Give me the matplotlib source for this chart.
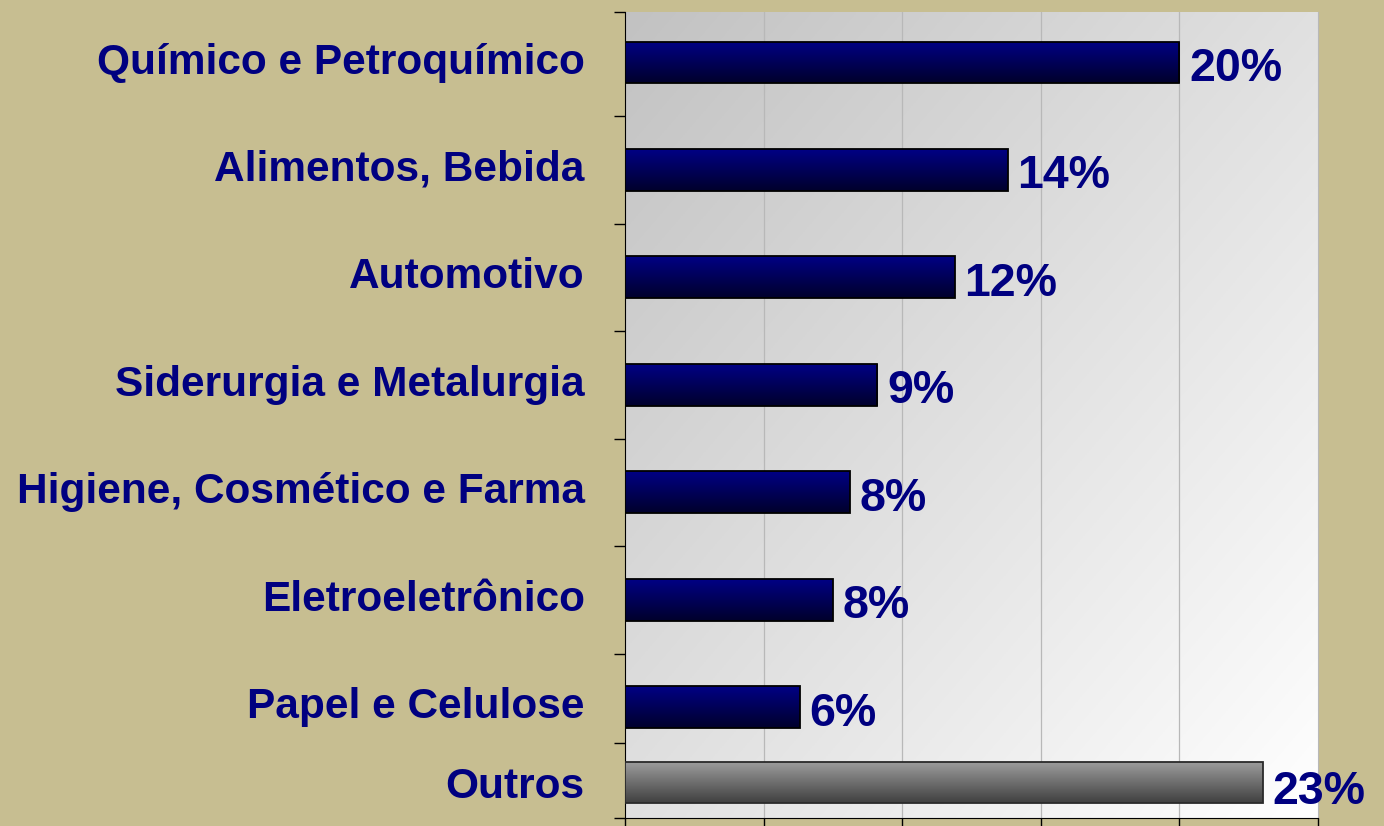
import numpy as np
import matplotlib
matplotlib.use("Agg")
import matplotlib.pyplot as plt

# dados (percentual por setor)
setores = ["Químico e Petroquímico", "Alimentos, Bebida", "Automotivo",
           "Siderurgia e Metalurgia", "Higiene, Cosmético e Farma",
           "Eletroeletrônico", "Papel e Celulose", "Outros"]
valores = [20.0, 13.8, 11.9, 9.1, 8.1, 7.5, 6.3, 23.0]
rotulos = ["20%", "14%", "12%", "9%", "8%", "8%", "6%", "23%"]

BG = "#C7BE91"
NAVY = "#000080"

plt.rcParams["font.family"] = ["Liberation Sans", "DejaVu Sans"]

fig = plt.figure(figsize=(13.84, 8.26), dpi=100, facecolor=BG)
pos = [625 / 1384, 1 - 818 / 826, (1318 - 625) / 1384, (818 - 12) / 826]

# fundo em degradê da área do gráfico (escuro no canto superior esquerdo)
bg_ax = fig.add_axes(pos, zorder=0)
xx, yy = np.meshgrid(np.linspace(0, 1, 300), np.linspace(0, 1, 300))
g = 0.76 + 0.24 * (xx + (1 - yy)) / 2
bg_ax.imshow(np.dstack([g, g, g]), extent=[0, 1, 0, 1], aspect="auto", origin="lower")
bg_ax.axis("off")

ax = fig.add_axes(pos, zorder=1)
ax.set_facecolor("none")

y_pos = [0, 1, 2, 3, 4, 5, 6, 6.70]
altura = 0.39

bars = ax.barh(y_pos, valores, height=altura, zorder=3)
n = 100
for i, b in enumerate(bars):
    if setores[i] == "Outros":
        top, bot = np.array([0.62, 0.62, 0.62]), np.array([0.25, 0.25, 0.25])
        edge = "#2a2a2a"
    else:
        top, bot = np.array([0.0, 0.0, 0.52]), np.array([0.0, 0.0, 0.17])
        edge = "black"
    t = np.linspace(0, 1, n)[:, None]
    grad = (top * (1 - t) + bot * t)[:, None, :]
    x0, w = b.get_x(), b.get_width()
    yc = y_pos[i]
    b.set_facecolor("none")
    b.set_edgecolor(edge)
    b.set_linewidth(1.3)
    b.set_zorder(4)
    im = ax.imshow(grad, extent=[x0, x0 + w, yc + altura / 2, yc - altura / 2],
                   aspect="auto", origin="upper", zorder=3)
    im.set_clip_path(b)

for i, txt in enumerate(rotulos):
    dy = -7 if setores[i] == "Outros" else -4.5
    ax.annotate(txt, (valores[i], y_pos[i]), textcoords="offset points",
                xytext=(7, dy), ha="left", va="center", fontsize=33.5,
                fontweight="bold", color=NAVY, zorder=5)

ax.set_xlim(0, 25)
ax.set_ylim(7.03, -0.47)

ax.set_xticks([0, 5, 10, 15, 20, 25])
ax.set_xticklabels([])
ax.tick_params(axis="x", direction="out", length=10, width=1, color="black")
for xv in [5, 10, 15, 20]:
    ax.axvline(xv, color="#b8b8b8", linewidth=0.9, zorder=1)

ax.set_yticks(y_pos)
ax.set_yticklabels(setores, fontsize=30.5, fontweight="bold", color=NAVY)
for lbl in ax.get_yticklabels():
    lbl.set_va("center_baseline" if lbl.get_text() == "Outros" else "center")
ax.tick_params(axis="y", which="major", length=0, pad=29)
ax.set_yticks([-0.47, 0.5, 1.5, 2.5, 3.5, 4.5, 5.5, 6.33, 7.03], minor=True)
ax.tick_params(axis="y", which="minor", direction="out", length=8, width=1, color="black")

ax.spines["top"].set_visible(False)
ax.spines["right"].set_color("#b8b8b8")
ax.spines["left"].set_color("black")
ax.spines["bottom"].set_color("black")

plt.savefig("out.png", dpi=100, facecolor=BG)
plt.close()
